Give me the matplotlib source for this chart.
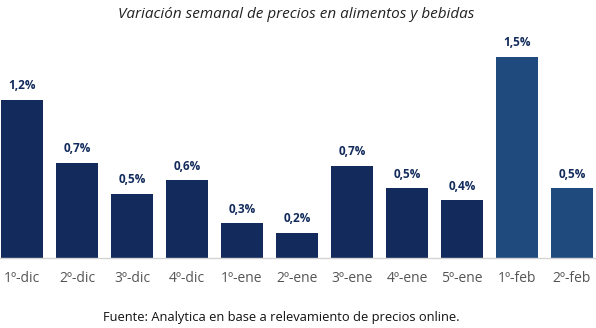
import matplotlib

matplotlib.use("Agg")

from matplotlib import pyplot as plt

weeks = ["1º-dic", "2º-dic", "3º-dic", "4º-dic", "1º-ene", "2º-ene",
         "3º-ene", "4º-ene", "5º-ene", "1º-feb", "2º-feb"]
values = [1.18, 0.71, 0.48, 0.58, 0.26, 0.19, 0.69, 0.52, 0.43, 1.50, 0.52]
labels = ["1,2%", "0,7%", "0,5%", "0,6%", "0,3%", "0,2%",
          "0,7%", "0,5%", "0,4%", "1,5%", "0,5%"]

DARK = "#122b5c"
LIGHT = "#1f4a7e"
colors = [DARK] * 9 + [LIGHT] * 2

plt.rcParams["font.family"] = ["Open Sans", "DejaVu Sans"]

W, H = 596, 328
fig = plt.figure(figsize=(W / 100, H / 100), dpi=100)
base_y, top_y = 258, 40
ax = fig.add_axes([0, (H - base_y) / H, 1, (base_y - top_y) / H])

x = list(range(len(weeks)))
bars = ax.bar(x, values, width=42 / 55, color=colors)
ax.set_xlim(-22 / 55, (W - 22) / 55)
ax.set_ylim(0, (base_y - top_y) / 134)

for bar, lab in zip(bars, labels):
    ax.annotate(lab, (bar.get_x() + bar.get_width() / 2, bar.get_height()),
                xytext=(0, 5.5), textcoords="offset points",
                ha="center", va="bottom", fontsize=8.5, fontweight="bold",
                color=DARK)

ax.set_xticks(x)
ax.set_xticklabels(weeks, fontsize=10, color="#555555")
ax.tick_params(axis="x", length=0, pad=9.5)
ax.set_yticks([])
for side in ["top", "left", "right"]:
    ax.spines[side].set_visible(False)
ax.spines["bottom"].set_color("#d4d4d4")
ax.spines["bottom"].set_linewidth(1)

fig.text(296 / W, 1 - 14 / H, "Variación semanal de precios en alimentos y bebidas",
         ha="center", va="center", fontsize=11, style="italic", color="#222222")
fig.text(281 / W, 1 - 318 / H,
         "Fuente: Analytica en base a relevamiento de precios online.",
         ha="center", va="center", fontsize=9.3, color="#111111")

fig.savefig("out.png", dpi=100)
